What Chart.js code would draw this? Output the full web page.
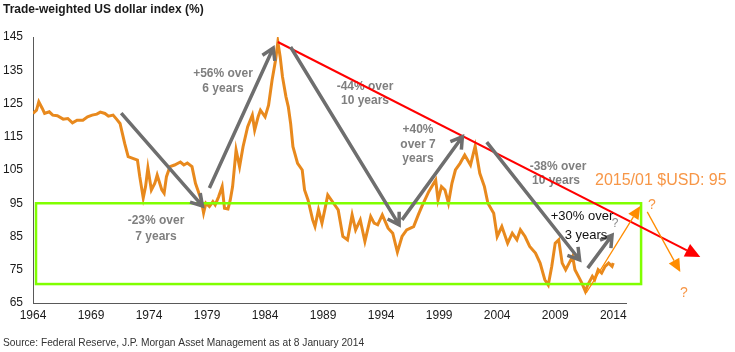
<!DOCTYPE html>
<html>
<head>
<meta charset="utf-8">
<script src="https://cdn.jsdelivr.net/npm/chart.js@4.4.1/dist/chart.umd.min.js"></script>
<style>
  html, body { margin: 0; padding: 0; background: #fff; }
</style>
</head>
<body>
<canvas id="usdChart" width="735" height="352"></canvas>
<script>
// Trade-weighted US dollar index
const years = [
  1964.0, 1964.3, 1964.5, 1964.8, 1965.0, 1965.4, 1965.7, 1966.1, 1966.6, 1967.0,
  1967.4, 1967.8, 1968.3, 1968.7, 1969.1, 1969.5, 1969.8, 1970.2, 1970.5, 1970.9,
  1971.2, 1971.5, 1971.7, 1971.9, 1972.2, 1972.6, 1973.0, 1973.2, 1973.5, 1973.7,
  1973.9, 1974.2, 1974.5, 1974.7, 1975.1, 1975.3, 1975.5, 1975.8, 1976.2, 1976.7,
  1977.0, 1977.3, 1977.7, 1978.0, 1978.2, 1978.5, 1978.7, 1978.9, 1979.2, 1979.5,
  1979.7, 1980.0, 1980.3, 1980.5, 1980.8, 1981.0, 1981.2, 1981.5, 1981.8, 1982.1,
  1982.5, 1982.9, 1983.1, 1983.4, 1983.6, 1984.0, 1984.3, 1984.6, 1984.9, 1985.1,
  1985.3, 1985.5, 1985.8, 1986.0, 1986.2, 1986.4, 1986.8, 1987.2, 1987.4, 1987.7,
  1988.1, 1988.3, 1988.6, 1988.9, 1989.2, 1989.4, 1989.9, 1990.3, 1990.7, 1991.1,
  1991.5, 1991.8, 1992.2, 1992.6, 1993.1, 1993.4, 1993.7, 1994.1, 1994.6, 1995.0,
  1995.4, 1995.8, 1996.2, 1996.8, 1997.2, 1997.5, 1998.1, 1998.7, 1998.9, 1999.2,
  1999.5, 1999.8, 2000.1, 2000.4, 2000.8, 2001.2, 2001.7, 2002.1, 2002.5, 2002.9,
  2003.2, 2003.7, 2004.0, 2004.4, 2004.9, 2005.3, 2005.7, 2006.0, 2006.4, 2006.8,
  2007.3, 2007.7, 2008.1, 2008.4, 2008.7, 2009.0, 2009.3, 2009.6, 2009.9, 2010.2,
  2010.5, 2010.7, 2011.0, 2011.3, 2011.6, 2011.8, 2012.2, 2012.4, 2012.7, 2013.0,
  2013.3, 2013.6, 2013.9, 2014.0
];
const usdIndex = [
  122.0, 123.0, 125.5, 123.5, 122.0, 122.5, 121.5, 121.3, 120.3, 120.5,
  119.2, 120.0, 120.0, 121.0, 121.5, 121.8, 122.4, 122.0, 121.2, 121.5,
  120.3, 119.0, 116.0, 113.0, 109.0, 108.5, 108.0, 103.0, 96.6, 100.0,
  105.6, 99.0, 101.0, 103.5, 99.0, 98.0, 103.0, 106.0, 106.5, 107.4,
  106.5, 107.1, 106.0, 101.0, 99.0, 96.0, 92.1, 95.0, 94.0, 95.5,
  94.5, 97.0, 100.0, 93.5, 93.3, 96.0, 100.0, 111.0, 106.0, 112.0,
  118.0, 121.5, 117.0, 121.0, 123.0, 121.0, 124.5, 132.0, 138.0, 143.5,
  139.0, 133.0, 127.0, 124.0, 119.0, 112.0, 107.0, 105.0, 99.0, 96.0,
  90.0, 88.0, 93.0, 89.0, 94.0, 97.5, 95.0, 93.0, 85.0, 84.0,
  91.5, 87.0, 90.0, 83.5, 91.0, 89.0, 88.5, 91.5, 87.5, 86.0,
  80.3, 85.0, 87.0, 88.0, 91.5, 94.0, 98.5, 102.0, 96.0, 100.0,
  99.0, 95.0, 101.0, 105.0, 107.0, 109.5, 106.5, 112.2, 104.0, 100.0,
  95.0, 92.0, 85.0, 88.0, 83.0, 86.0, 84.0, 87.0, 85.0, 82.0,
  80.0, 77.0, 72.0, 70.4, 76.0, 83.0, 84.0, 77.0, 75.0, 77.0,
  79.0, 75.0, 73.0, 71.0, 68.5, 70.4, 73.0, 72.0, 75.0, 74.0,
  76.0, 77.0, 76.0, 77.0
];
const xTicks = [1964, 1969, 1974, 1979, 1984, 1989, 1994, 1999, 2004, 2009, 2014];
const yTicks = [65, 75, 85, 95, 105, 115, 125, 135, 145];

// trend arrows in data units: [yearFrom, valueFrom, yearTo, valueTo]
const grayArrows = [
  [1971.6, 122.1, 1978.6, 94.2],
  [1979.2, 99.6, 1984.7, 141.7],
  [1986.2, 142.0, 1995.55, 88.5],
  [1995.8, 90.0, 2001.0, 115.0],
  [2003.1, 113.4, 2011.1, 78.0],
  [2011.8, 75.5, 2013.9, 85.4]
];
const redTrend = [1985.1, 143.5, 2021.5, 78.8];
const orangeArrows = [
  [2011.67, 68.0, 2016.33, 94.2],
  [2016.93, 92.4, 2019.78, 74.3]
];
const rangeBox = [1964.26, 95, 2016.4, 70.7];

const FONT = "'Liberation Sans', Arial, sans-serif";

function openArrow(ctx, x1, y1, x2, y2, head) {
  const a = Math.atan2(y2 - y1, x2 - x1);
  ctx.beginPath();
  ctx.moveTo(x1, y1);
  ctx.lineTo(x2, y2);
  ctx.moveTo(x2 - head * Math.cos(a - 0.55), y2 - head * Math.sin(a - 0.55));
  ctx.lineTo(x2, y2);
  ctx.lineTo(x2 - head * Math.cos(a + 0.55), y2 - head * Math.sin(a + 0.55));
  ctx.stroke();
}

function solidArrow(ctx, x1, y1, x2, y2, len, half) {
  const a = Math.atan2(y2 - y1, x2 - x1);
  const bx = x2 - len * Math.cos(a), by = y2 - len * Math.sin(a);
  ctx.beginPath();
  ctx.moveTo(x1, y1);
  ctx.lineTo(bx, by);
  ctx.stroke();
  ctx.beginPath();
  ctx.moveTo(x2, y2);
  ctx.lineTo(bx + half * Math.sin(a), by - half * Math.cos(a));
  ctx.lineTo(bx - half * Math.sin(a), by + half * Math.cos(a));
  ctx.closePath();
  ctx.fill();
}

const annotations = {
  id: 'annotations',
  afterDraw(chart) {
    const ctx = chart.ctx;
    const xs = chart.scales.x, ys = chart.scales.y;
    const px = v => xs.getPixelForValue(v);
    const py = v => ys.getPixelForValue(v);
    ctx.save();
    ctx.lineCap = 'butt';
    ctx.lineJoin = 'miter';

    // green range box
    ctx.strokeStyle = '#80ff00';
    ctx.lineWidth = 2.5;
    ctx.strokeRect(px(rangeBox[0]), py(rangeBox[1]), px(rangeBox[2]) - px(rangeBox[0]), py(rangeBox[3]) - py(rangeBox[1]));

    // text labels (gray, bold)
    ctx.fillStyle = '#7f7f7f';
    ctx.font = 'bold 12px ' + FONT;
    ctx.textAlign = 'center';
    ctx.textBaseline = 'middle';
    [['+56% over', 223, 74], ['6 years', 223, 89],
     ['-44% over', 365, 87], ['10 years', 365, 101],
     ['+40%', 418, 130], ['over 7', 418, 145], ['years', 418, 159],
     ['-23% over', 156, 221], ['7 years', 156, 237],
     ['-38% over', 558, 167], ['10 years', 556, 181]
    ].forEach(t => ctx.fillText(t[0], t[1], t[2]));

    // red trend line
    ctx.strokeStyle = '#ff0000';
    ctx.fillStyle = '#ff0000';
    ctx.lineWidth = 2;
    solidArrow(ctx, px(redTrend[0]), py(redTrend[1]), px(redTrend[2]), py(redTrend[3]), 15, 7);

    // gray move arrows
    ctx.strokeStyle = '#6e6e6e';
    ctx.lineWidth = 3.5;
    grayArrows.forEach(g => openArrow(ctx, px(g[0]), py(g[1]), px(g[2]), py(g[3]), 13));

    // orange scenario arrows
    ctx.strokeStyle = '#ff8c00';
    ctx.fillStyle = '#ff8c00';
    ctx.lineWidth = 1.3;
    orangeArrows.forEach(o => solidArrow(ctx, px(o[0]), py(o[1]), px(o[2]), py(o[3]), 13, 6));

    // black label
    ctx.fillStyle = '#111';
    ctx.font = '13px ' + FONT;
    ctx.fillText('+30% over', 582, 216);
    ctx.fillText('3 years', 586, 235);

    ctx.fillStyle = '#8a8a8a';
    ctx.font = '12px ' + FONT;
    ctx.fillText('?', 615, 224);

    ctx.fillStyle = '#f79646';
    ctx.font = '14px ' + FONT;
    ctx.fillText('?', 652, 205);
    ctx.fillText('?', 684, 293);
    ctx.font = '16px ' + FONT;
    ctx.textAlign = 'left';
    ctx.fillText('2015/01 $USD: 95', 595, 181);

    // title and source
    ctx.fillStyle = '#1a1a1a';
    ctx.font = 'bold 12px ' + FONT;
    ctx.fillText('Trade-weighted US dollar index (%)', 3, 10);
    ctx.font = '10.2px ' + FONT;
    ctx.fillStyle = '#333';
    ctx.fillText('Source: Federal Reserve, J.P. Morgan Asset Management as at 8 January 2014', 3, 343);
    ctx.restore();
  }
};

const ctx = document.getElementById('usdChart').getContext('2d');
const usdChart = new Chart(ctx, {
  type: 'line',
  data: {
    datasets: [{
      label: 'Trade-weighted US dollar index',
      data: years.map((yr, i) => ({ x: yr, y: usdIndex[i] })),
      borderColor: '#e8891d',
      borderWidth: 3,
      pointRadius: 0,
      tension: 0,
      fill: false
    }]
  },
  options: {
    responsive: false,
    animation: false,
    layout: { padding: { top: 37, right: 109, bottom: 0, left: 0 } },
    plugins: {
      legend: { display: false },
      tooltip: { enabled: false }
    },
    scales: {
      x: {
        type: 'linear',
        min: 1964,
        max: 2015.1,
        grid: { display: false, drawTicks: false },
        border: { display: true, color: '#595959', width: 1 },
        afterBuildTicks: s => { s.ticks = xTicks.map(v => ({ value: v })); },
        afterFit: s => { s.height = 49; },
        ticks: {
          padding: 5,
          color: '#1a1a1a',
          font: { family: FONT, size: 12 },
          maxRotation: 0,
          autoSkip: false,
          callback: v => String(v)
        }
      },
      y: {
        min: 65,
        max: 145,
        grid: { display: false, drawTicks: false },
        border: { display: true, color: '#595959', width: 1 },
        afterBuildTicks: s => { s.ticks = yTicks.map(v => ({ value: v })); },
        afterFit: s => { s.width = 33; },
        ticks: {
          padding: 10,
          color: '#1a1a1a',
          font: { family: FONT, size: 12 },
          callback: v => String(v)
        }
      }
    }
  },
  plugins: [annotations]
});
</script>
</body>
</html>
